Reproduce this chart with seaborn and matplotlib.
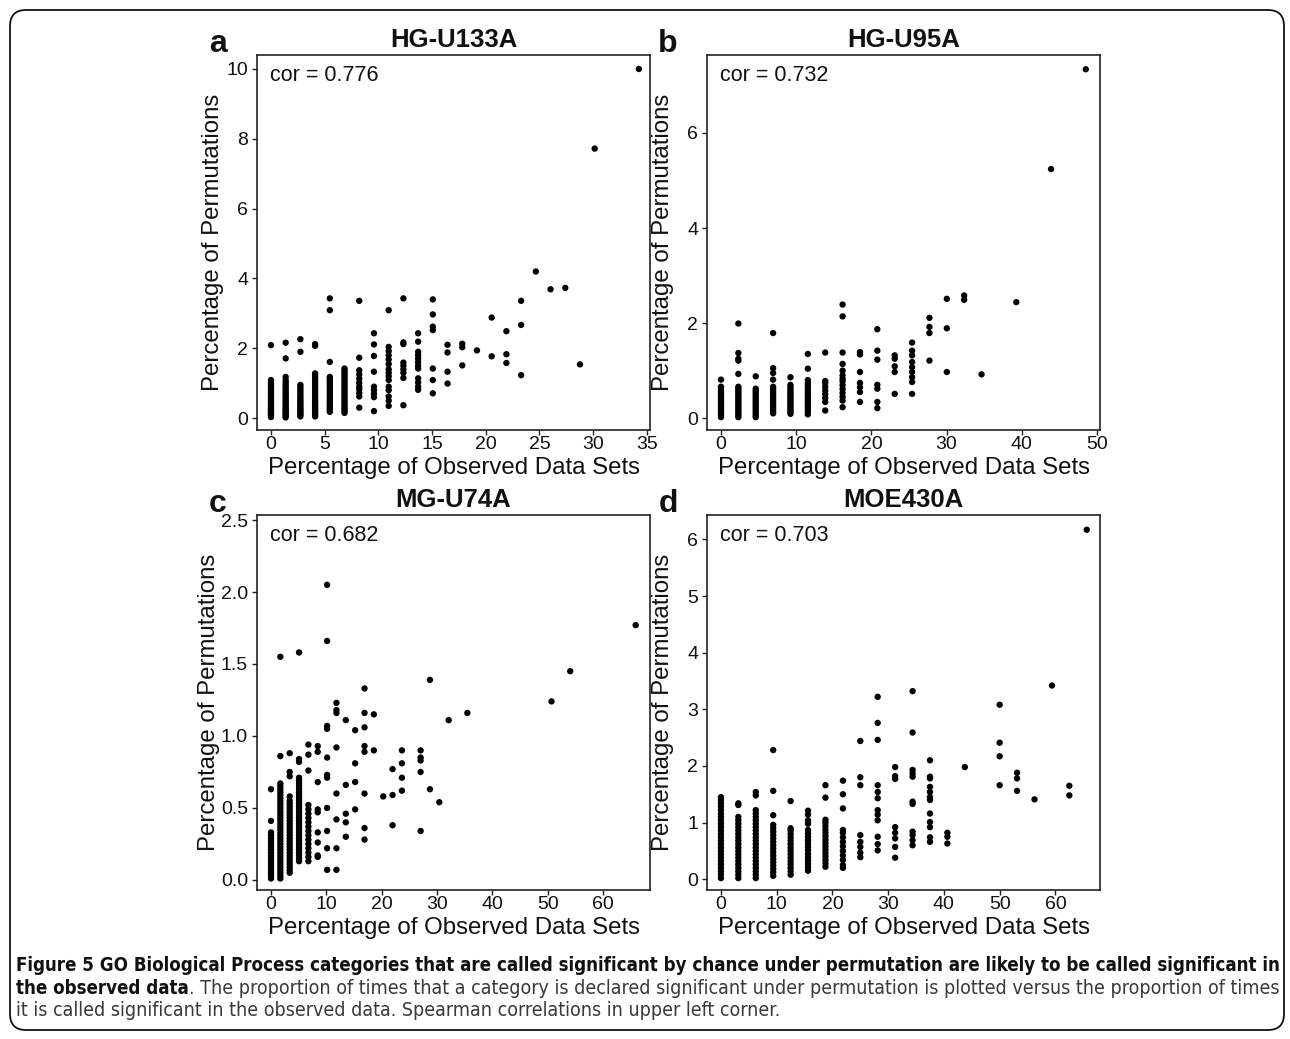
import matplotlib
matplotlib.use("Agg")
import matplotlib.pyplot as plt
import pandas as pd
import seaborn as sns
from matplotlib.patches import FancyBboxPatch
from matplotlib import font_manager
from matplotlib.font_manager import FontProperties

# ---------------- data ----------------
titles = ["HG-U133A", "HG-U95A", "MG-U74A", "MOE430A"]
letters = ["a", "b", "c", "d"]
cors = ["0.776", "0.732", "0.682", "0.703"]

# panel a : x columns and the y values in each column
a_cols = [0.00, 1.37, 2.74, 4.11, 5.48, 6.85, 8.22, 9.59, 10.96, 12.33, 13.70, 15.07,
          16.44, 17.81, 19.18, 20.55, 21.92, 23.29, 24.66, 26.03, 27.40, 28.77, 30.14, 34.25]
a_vals = [
    [0.03,0.07,0.11,0.15,0.19,0.23,0.27,0.31,0.35,0.40,0.45,0.50,0.55,0.60,0.66,0.72,0.78,0.84,0.90,0.96,1.02,1.09,2.09],
    [0.02,0.06,0.10,0.14,0.18,0.22,0.26,0.30,0.35,0.40,0.45,0.50,0.55,0.60,0.66,0.72,0.78,0.84,0.90,0.96,1.02,1.09,1.18,1.71,2.16],
    [0.05,0.09,0.13,0.17,0.21,0.25,0.30,0.35,0.40,0.45,0.50,0.55,0.60,0.66,0.72,0.78,0.84,0.90,0.95,1.90,2.26],
    [0.05,0.09,0.13,0.17,0.21,0.25,0.30,0.35,0.40,0.45,0.50,0.56,0.62,0.68,0.74,0.80,0.86,0.92,0.98,1.04,1.10,1.16,1.22,1.28,2.07,2.12],
    [0.18,0.23,0.28,0.33,0.38,0.43,0.48,0.54,0.60,0.66,0.72,0.78,0.84,0.90,0.96,1.02,1.08,1.13,1.18,1.61,3.09,3.43],
    [0.15,0.20,0.25,0.30,0.35,0.41,0.47,0.53,0.59,0.65,0.71,0.77,0.83,0.89,0.95,1.01,1.07,1.13,1.19,1.25,1.31,1.37,1.42],
    [0.30,0.62,0.72,0.82,0.90,1.01,1.13,1.25,1.37,1.73,3.36],
    [0.20,0.60,0.70,0.80,0.90,1.33,1.78,2.11,2.43],
    [0.35,0.50,0.62,0.80,0.90,1.09,1.20,1.30,1.40,1.55,1.68,1.80,1.92,2.04,3.09],
    [0.37,1.15,1.30,1.40,1.50,1.59,2.12,2.17,3.43],
    [0.81,0.90,1.02,1.14,1.42,1.50,1.60,1.70,1.80,1.90,2.19,2.43],
    [0.71,1.09,1.42,2.52,2.62,2.97,3.40],
    [0.99,1.33,1.88,2.10],
    [1.51,2.03,2.13],
    [1.94],
    [1.77,2.88],
    [1.58,1.83,2.49],
    [1.23,2.67,3.36],
    [4.20],
    [3.69],
    [3.73],
    [1.54],
    [7.72],
    [10.0],
]

# panel b
b_cols = [0.00, 2.31, 4.62, 6.93, 9.24, 11.55, 13.86, 16.17, 18.48, 20.79, 23.10, 25.41,
          27.72, 30.03, 32.34, 34.65, 39.27, 43.89, 48.51]
b_vals = [
    [0.02,0.06,0.10,0.14,0.18,0.22,0.26,0.30,0.34,0.38,0.42,0.46,0.50,0.54,0.58,0.62,0.66,0.81],
    [0.02,0.06,0.10,0.14,0.18,0.22,0.26,0.30,0.34,0.38,0.42,0.46,0.50,0.54,0.58,0.62,0.66,0.93,1.21,1.25,1.37,1.99],
    [0.02,0.06,0.10,0.14,0.18,0.22,0.26,0.30,0.34,0.38,0.42,0.46,0.50,0.54,0.58,0.62,0.88],
    [0.10,0.14,0.18,0.22,0.26,0.30,0.34,0.38,0.42,0.46,0.50,0.54,0.58,0.62,0.66,0.81,0.95,1.05,1.79],
    [0.09,0.13,0.17,0.21,0.25,0.29,0.33,0.37,0.41,0.45,0.49,0.53,0.57,0.61,0.65,0.70,0.86],
    [0.08,0.13,0.18,0.23,0.28,0.33,0.38,0.43,0.48,0.53,0.58,0.63,0.68,0.74,0.80,1.04,1.35],
    [0.16,0.34,0.42,0.50,0.58,0.66,0.74,0.78,1.38],
    [0.23,0.37,0.45,0.53,0.61,0.69,0.77,0.83,0.90,1.00,1.14,1.38,2.14,2.39],
    [0.34,0.55,0.65,0.74,0.97,1.34,1.39],
    [0.21,0.34,0.62,0.70,1.23,1.42,1.87],
    [0.51,0.97,1.09,1.25,1.32],
    [0.51,0.76,0.86,0.97,1.07,1.18,1.32,1.42,1.59],
    [1.21,1.79,1.92,2.11],
    [0.97,1.89,2.51],
    [2.49,2.58],
    [0.92],
    [2.44],
    [5.24],
    [7.34],
]

# panel c
c_cols = [0.00, 1.69, 3.38, 5.07, 6.76, 8.45, 10.14, 11.83, 13.52, 15.21, 16.90, 18.59,
          20.28, 21.97, 23.66, 27.04, 28.73, 30.42, 32.11, 35.49, 50.70, 54.08, 65.91]
c_vals = [
    [0.01,0.03,0.05,0.07,0.09,0.11,0.13,0.15,0.17,0.19,0.21,0.23,0.25,0.27,0.29,0.31,0.33,0.41,0.63],
    [0.01,0.03,0.05,0.07,0.09,0.11,0.13,0.15,0.17,0.19,0.21,0.23,0.25,0.27,0.29,0.31,0.33,0.35,0.37,0.39,
     0.41,0.43,0.45,0.47,0.49,0.51,0.53,0.55,0.57,0.59,0.61,0.63,0.65,0.67,0.86,1.55],
    [0.05,0.07,0.09,0.11,0.13,0.15,0.17,0.19,0.21,0.23,0.25,0.27,0.29,0.31,0.33,0.35,0.37,0.39,0.41,0.43,
     0.45,0.47,0.49,0.51,0.53,0.55,0.58,0.72,0.75,0.88],
    [0.13,0.15,0.17,0.19,0.21,0.23,0.25,0.27,0.29,0.31,0.33,0.35,0.37,0.39,0.41,0.43,0.45,0.47,0.49,0.51,
     0.53,0.55,0.57,0.59,0.61,0.63,0.65,0.67,0.69,0.71,0.82,0.84,1.58],
    [0.13,0.16,0.19,0.22,0.25,0.28,0.31,0.34,0.37,0.40,0.43,0.46,0.49,0.52,0.76,0.87,0.94],
    [0.16,0.17,0.26,0.33,0.47,0.49,0.68,0.89,0.93],
    [0.07,0.22,0.34,0.50,0.71,0.73,0.85,1.05,1.07,1.66,2.05],
    [0.07,0.22,0.42,0.60,0.92,1.16,1.18,1.23],
    [0.30,0.40,0.46,0.66,1.11],
    [0.49,0.68,0.81,1.04],
    [0.28,0.36,0.60,0.89,0.93,1.06,1.16,1.33],
    [0.90,1.15],
    [0.58],
    [0.38,0.59,0.77],
    [0.62,0.71,0.81,0.90],
    [0.34,0.75,0.83,0.85,0.90],
    [0.63,1.39],
    [0.54],
    [1.11],
    [1.16],
    [1.24],
    [1.45],
    [1.77],
]

# panel d
d_cols = [0.00, 3.12, 6.25, 9.38, 12.50, 15.62, 18.75, 21.88, 25.00, 28.12, 31.25, 34.38,
          37.50, 40.62, 43.75, 50.00, 53.12, 56.25, 59.38, 62.50, 65.62]
d_vals = [
    [0.02,0.08,0.14,0.20,0.26,0.32,0.38,0.44,0.50,0.56,0.62,0.68,0.74,0.80,0.86,0.92,0.98,1.04,1.10,1.16,1.22,1.28,1.34,1.40,1.45],
    [0.02,0.08,0.14,0.20,0.26,0.32,0.38,0.44,0.50,0.56,0.62,0.68,0.74,0.80,0.86,0.92,0.98,1.04,1.10,1.31,1.34],
    [0.02,0.08,0.14,0.20,0.26,0.32,0.38,0.44,0.50,0.56,0.62,0.68,0.74,0.80,0.86,0.92,0.98,1.04,1.10,1.16,1.22,1.48,1.54],
    [0.06,0.12,0.18,0.24,0.30,0.36,0.42,0.48,0.54,0.60,0.66,0.72,0.78,0.84,0.90,0.96,1.13,1.56,2.28],
    [0.08,0.14,0.20,0.26,0.32,0.38,0.44,0.50,0.56,0.62,0.68,0.74,0.80,0.86,0.90,1.38],
    [0.15,0.21,0.27,0.33,0.39,0.45,0.51,0.57,0.63,0.69,0.75,0.81,0.87,0.98,1.04,1.14,1.21],
    [0.22,0.28,0.34,0.40,0.46,0.52,0.58,0.64,0.70,0.76,0.82,0.88,0.94,1.00,1.05,1.44,1.66],
    [0.20,0.25,0.34,0.42,0.50,0.58,0.66,0.74,0.82,0.87,1.25,1.50,1.74],
    [0.39,0.47,0.57,0.66,0.78,1.66,1.80,2.44],
    [0.51,0.62,0.75,1.04,1.14,1.22,1.43,1.54,1.66,2.46,2.76,3.22],
    [0.38,0.57,0.72,0.82,0.92,1.77,1.82,1.98],
    [0.60,0.69,0.78,0.84,1.33,1.37,1.81,1.87,1.93,2.59,3.32],
    [0.66,0.74,0.92,1.01,1.16,1.40,1.45,1.54,1.63,1.78,1.81,2.10],
    [0.63,0.75,0.82],
    [1.98],
    [1.66,2.17,2.41,3.08],
    [1.56,1.78,1.88],
    [1.41],
    [3.42],
    [1.48,1.65],
    [6.17],
]

a_xticks = [0, 5, 10, 15, 20, 25, 30, 35]
a_yticks = [0, 2, 4, 6, 8, 10]
b_xticks = [0, 10, 20, 30, 40, 50]
b_yticks = [0, 2, 4, 6]
c_xticks = [0, 10, 20, 30, 40, 50, 60]
c_yticks = [0.0, 0.5, 1.0, 1.5, 2.0, 2.5]
c_yticklabels = ["0.0", "0.5", "1.0", "1.5", "2.0", "2.5"]
d_xticks = [0, 10, 20, 30, 40, 50, 60]
d_yticks = [0, 1, 2, 3, 4, 5, 6]

xlabel = "Percentage of Observed Data Sets"
ylabel = "Percentage of Permutations"

cap1 = ("Figure 5 GO Biological Process categories that are called significant by chance "
        "under permutation are likely to be called significant in")
cap2_bold = "the observed data"
cap2_rest = (". The proportion of times that a category is declared significant under "
             "permutation is plotted versus the proportion of times")
cap3 = ("it is called significant in the observed data. Spearman correlations in upper "
        "left corner.")

# ---------------- styling ----------------
sns.set_style("white")
plt.rcParams["font.family"] = ["Liberation Sans", "DejaVu Sans"]

W, H = 1290, 1039
fig = plt.figure(figsize=(W / 100, H / 100), dpi=100)


def expand(cols, vals):
    xs, ys = [], []
    for x, col in zip(cols, vals):
        for y in col:
            xs.append(x)
            ys.append(y)
    return pd.DataFrame({"obs": xs, "perm": ys})


panels = [
    dict(cols=a_cols, vals=a_vals, box=(257, 55, 650, 430), xlim=(-1.30, 35.29), ylim=(-0.34, 10.40),
         xt=a_xticks, yt=a_yticks, ytl=[str(v) for v in a_yticks], ylx=-0.085),
    dict(cols=b_cols, vals=b_vals, box=(707, 55, 1100, 430), xlim=(-1.86, 50.4), ylim=(-0.25, 7.64),
         xt=b_xticks, yt=b_yticks, ytl=[str(v) for v in b_yticks], ylx=-0.085),
    dict(cols=c_cols, vals=c_vals, box=(257, 515, 650, 890), xlim=(-2.53, 68.5), ylim=(-0.07, 2.535),
         xt=c_xticks, yt=c_yticks, ytl=c_yticklabels, ylx=-0.094),
    dict(cols=d_cols, vals=d_vals, box=(707, 515, 1100, 890), xlim=(-2.5, 68.0), ylim=(-0.19, 6.43),
         xt=d_xticks, yt=d_yticks, ytl=[str(v) for v in d_yticks], ylx=-0.085),
]

edge = "#222222"
for i, p in enumerate(panels):
    l, t, r, b = p["box"]
    ax = fig.add_axes([l / W, 1 - b / H, (r - l) / W, (b - t) / H])
    df = expand(p["cols"], p["vals"])
    sns.scatterplot(data=df, x="obs", y="perm", ax=ax, color="black", s=21,
                    linewidth=0, edgecolor="none", legend=False)
    ax.set_xlim(*p["xlim"])
    ax.set_ylim(*p["ylim"])
    ax.set_xticks(p["xt"])
    ax.set_xticklabels([str(v) for v in p["xt"]])
    ax.set_yticks(p["yt"])
    ax.set_yticklabels(p["ytl"])
    for s in ax.spines.values():
        s.set_visible(True)
        s.set_color(edge)
        s.set_linewidth(1.2)
    ax.tick_params(axis="both", direction="out", length=3.8, width=1.0, color=edge,
                   labelsize=14, labelcolor="#111111")
    ax.tick_params(axis="x", pad=0.8, bottom=True)
    ax.tick_params(axis="y", pad=2.6, left=True)
    ax.set_xlabel(xlabel, fontsize=17.3, color="#111111")
    ax.set_ylabel(ylabel, fontsize=17.3, color="#111111")
    ax.xaxis.set_label_coords(0.5, -0.072)
    ax.yaxis.set_label_coords(p["ylx"], 0.5)
    ax.set_title(titles[i], fontsize=18.5, fontweight="bold", pad=5.5, color="#111111")
    ax.text(0.033, 0.931, "cor = " + cors[i], transform=ax.transAxes, fontsize=15.5,
            ha="left", va="baseline", color="#111111")
    fig.text((l - 39) / W, 1 - (t - 11) / H, letters[i], fontsize=23, fontweight="bold",
             ha="center", va="center", color="#111111")

# rounded frame around figure + caption
frame = FancyBboxPatch((10 / 100, (H - 1030) / 100), (1284 - 10) / 100, (1030 - 10) / 100,
                       boxstyle="round,pad=0,rounding_size=0.16", transform=fig.dpi_scale_trans,
                       fill=False, edgecolor="#111111", linewidth=1.3)
fig.patches.append(frame)

# caption font: prefer a condensed face if installed
reg_fp = FontProperties(family=["Open Sans", "DejaVu Sans"])
bold_fp = FontProperties(family=["Open Sans", "DejaVu Sans"], weight="bold")
try:
    groups = {}
    for f in font_manager.fontManager.ttflist:
        nm = f.name
        if f.style != "normal":
            continue
        if ("Condensed" in nm or "Narrow" in nm or f.stretch in ("condensed", "semi-condensed")):
            key = (nm, str(f.stretch))
            w = f.weight
            try:
                w = int(w)
            except Exception:
                w = {"normal": 400, "regular": 400, "bold": 700}.get(str(w).lower(), 400)
            groups.setdefault(key, {})[w] = f.fname
    best = None
    for key, d in groups.items():
        if 400 in d and 700 in d:
            pref = 0 if "Open Sans" in key[0] else (1 if "Liberation" in key[0] else 2)
            if best is None or pref < best[0]:
                best = (pref, d)
    if best is not None:
        reg_fp = FontProperties(fname=best[1][400])
        bold_fp = FontProperties(fname=best[1][700])
except Exception:
    pass

fig.canvas.draw()
rend = fig.canvas.get_renderer()


def px_width(txt):
    return txt.get_window_extent(renderer=rend).width


x0 = 16
y1, y2, y3 = 971, 994, 1016
t1 = fig.text(x0 / W, 1 - y1 / H, cap1, fontproperties=bold_fp, fontsize=12,
              ha="left", va="baseline", color="#111111")
w1 = px_width(t1)
bsize = 12 * (1281 - x0) / w1
t1.set_fontsize(bsize)

t2a = fig.text(x0 / W, 1 - y2 / H, cap2_bold, fontproperties=bold_fp, fontsize=bsize,
               ha="left", va="baseline", color="#111111")
wa = px_width(t2a)
t2b = fig.text((x0 + wa) / W, 1 - y2 / H, cap2_rest, fontproperties=reg_fp, fontsize=12,
               ha="left", va="baseline", color="#3a3a3a")
wb = px_width(t2b)
rsize = 12 * (1276 - x0 - wa) / wb
t2b.set_fontsize(rsize)
t3 = fig.text(x0 / W, 1 - y3 / H, cap3, fontproperties=reg_fp, fontsize=rsize,
              ha="left", va="baseline", color="#3a3a3a")

fig.savefig("out.png", dpi=100, facecolor="white")
